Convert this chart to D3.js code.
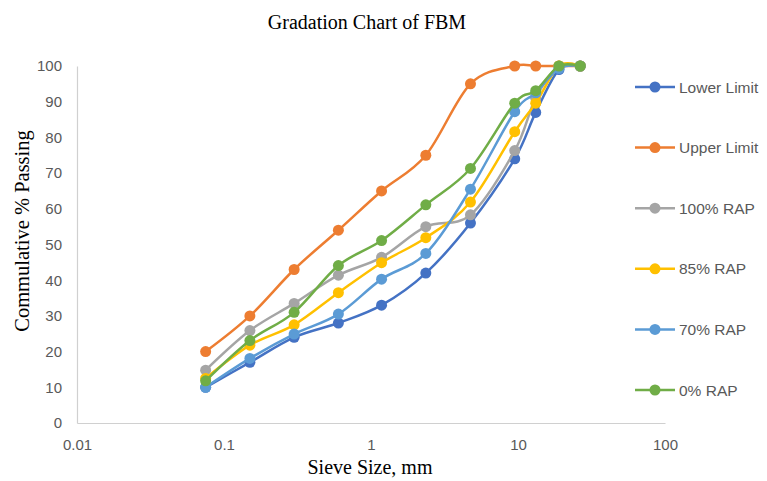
<!DOCTYPE html>
<html>
<head>
<meta charset="utf-8">
<script src="https://cdn.jsdelivr.net/npm/d3@7"></script>
<style>
body{margin:0;background:#fff;}
</style>
</head>
<body>
<svg id="chart" width="767" height="481"></svg>
<script>
// sieve sizes (mm) and % passing per blend
var sieves = [0.075, 0.15, 0.3, 0.6, 1.18, 2.36, 4.75, 9.5, 13.2, 19, 26.5]
var lower_limit = [10, 17, 24, 28, 33, 42, 56, 74, 87, 99, 100]
var upper_limit = [20, 30, 43, 54, 65, 75, 95, 100, 100, 100, 100]
var rap_100 = [14.8, 25.9, 33.5, 41.4, 46.4, 55, 58.3, 76.3, 91, 100, 100]
var rap_85 = [12.5, 21.8, 27.5, 36.5, 44.9, 51.9, 61.9, 81.6, 89.6, 100, 100]
var rap_70 = [10, 18.1, 24.9, 30.5, 40.3, 47.5, 65.5, 87.2, 92.5, 99.3, 100]
var rap_0 = [11.8, 23.1, 31, 44.1, 51.1, 61.1, 71.3, 89.6, 93.1, 100, 100]
var series_names = ["Lower Limit", "Upper Limit", "100% RAP", "85% RAP", "70% RAP", "0% RAP"]
var series_colors = ["#4472C4", "#ED7D31", "#A5A5A5", "#FFC000", "#5B9BD5", "#70AD47"]
var y_ticks = [0, 10, 20, 30, 40, 50, 60, 70, 80, 90, 100]
var x_ticks = [0.01, 0.1, 1, 10, 100]

var series_values = [lower_limit, upper_limit, rap_100, rap_85, rap_70, rap_0]

svg = d3.select("#chart")

x = d3.scaleLog().domain([0.01, 100]).range([77, 665])
y = d3.scaleLinear().domain([0, 100]).range([423, 66])

// title
svg.append("text")
    .attr("x", 367).attr("y", 29)
    .attr("text-anchor", "middle")
    .style("font-family", "Liberation Serif, Times New Roman, serif")
    .style("font-size", "20px")
    .text("Gradation Chart of FBM")

// axes
gx = svg.append("g").attr("transform", "translate(0,423)")
    .call(d3.axisBottom(x).tickValues(x_ticks).tickSize(0).tickPadding(16)
        .tickFormat(function(d){ return d3.format("~g")(d) }))
gy = svg.append("g").attr("transform", "translate(77,0)")
    .call(d3.axisLeft(y).tickValues(y_ticks).tickSize(0).tickPadding(15))

svg.selectAll(".domain").attr("stroke", "#D0D0D0").attr("stroke-width", 1.2)
svg.selectAll(".tick text")
    .attr("fill", "#595959")
    .style("font-family", "Liberation Sans, Arial, sans-serif")
    .style("font-size", "15px")

// axis titles
svg.append("text")
    .attr("x", 370).attr("y", 474)
    .attr("text-anchor", "middle")
    .style("font-family", "Liberation Serif, Times New Roman, serif")
    .style("font-size", "20px")
    .text("Sieve Size, mm")

svg.append("text")
    .attr("transform", "translate(29,231) rotate(-90)")
    .attr("text-anchor", "middle")
    .style("font-family", "Liberation Serif, Times New Roman, serif")
    .style("font-size", "20.5px")
    .text("Commulative % Passing")

// lines
line = d3.line()
    .x(function(d){ return x(d[0]) })
    .y(function(d){ return y(d[1]) })
    .curve(d3.curveCatmullRom.alpha(0))

g_lines = svg.append("g")
for (i = 0; i < series_values.length; i++) {
    pts = sieves.map(function(s, j){ return [s, series_values[i][j]] })
    g_s = g_lines.append("g")
    g_s.append("path")
        .datum(pts)
        .attr("d", line)
        .attr("fill", "none")
        .attr("stroke", series_colors[i])
        .attr("stroke-width", 2.5)
    g_s.selectAll("circle")
        .data(pts)
        .enter().append("circle")
        .attr("cx", function(d){ return x(d[0]) })
        .attr("cy", function(d){ return y(d[1]) })
        .attr("r", 5.5)
        .attr("fill", series_colors[i])
}

// legend
g_leg = svg.append("g")
for (i = 0; i < series_names.length; i++) {
    ly = 87 + i * 60.6
    g_leg.append("line")
        .attr("x1", 635).attr("x2", 675).attr("y1", ly).attr("y2", ly)
        .attr("stroke", series_colors[i]).attr("stroke-width", 2.5)
    g_leg.append("circle")
        .attr("cx", 655).attr("cy", ly).attr("r", 5.5)
        .attr("fill", series_colors[i])
    g_leg.append("text")
        .attr("x", 679).attr("y", ly + 5.5)
        .attr("fill", "#595959")
        .style("font-family", "Liberation Sans, Arial, sans-serif")
        .style("font-size", "15.5px")
        .text(series_names[i])
}
</script>
</body>
</html>
